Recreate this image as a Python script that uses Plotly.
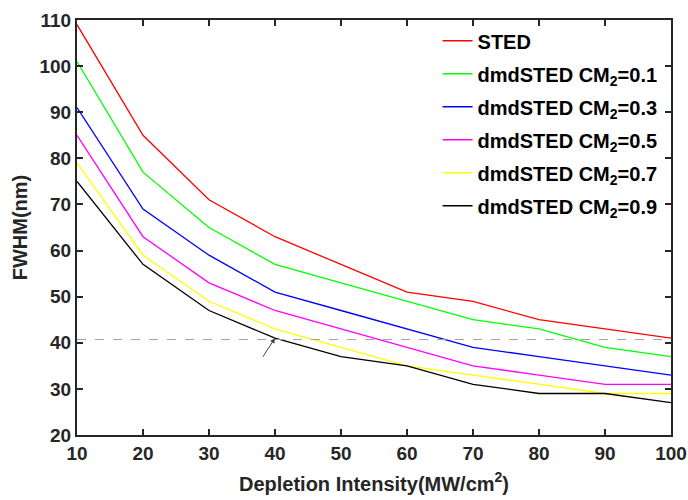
import plotly.graph_objects as go

intensity = [10, 20, 30, 40, 50, 60, 70, 80, 90, 100]
sted = [109, 85, 71, 63, 57, 51, 49, 45, 43, 41]
cm01 = [101, 77, 65, 57, 53, 49, 45, 43, 39, 37]
cm03 = [91, 69, 59, 51, 47, 43, 39, 37, 35, 33]
cm05 = [85, 63, 53, 47, 43, 39, 35, 33, 31, 31]
cm07 = [79, 59, 49, 43, 39, 35, 33, 31, 29, 29]
cm09 = [75, 57, 47, 41, 37, 35, 31, 29, 29, 27]
ref_level = 40.7
arrow_x, arrow_y = 40, 41

names = ["STED",
         "dmdSTED CM<sub>2</sub>=0.1",
         "dmdSTED CM<sub>2</sub>=0.3",
         "dmdSTED CM<sub>2</sub>=0.5",
         "dmdSTED CM<sub>2</sub>=0.7",
         "dmdSTED CM<sub>2</sub>=0.9"]
series = [sted, cm01, cm03, cm05, cm07, cm09]
colors = ["#FF0000", "#00FF00", "#0000FF", "#FF00FF", "#FFFF00", "#000000"]

FONT = "Liberation Sans, Arial, sans-serif"
AX = "#262626"

fig = go.Figure()
for i, (n, s, c) in enumerate(zip(names, series, colors)):
    fig.add_trace(go.Scatter(x=intensity, y=s, mode="lines", name=n,
                             legendgroup=f"g{i}",
                             line=dict(color=c, width=1.3)))

fig.add_shape(type="line", xref="x", yref="y", x0=intensity[0], x1=intensity[-1],
              y0=ref_level, y1=ref_level,
              line=dict(color="#A0A0A0", width=1, dash="dash"))

fig.add_annotation(x=arrow_x, y=arrow_y, xref="x", yref="y", text="",
                   showarrow=True, arrowhead=2, arrowsize=1, arrowwidth=1,
                   arrowcolor="#404040", ax=-13, ay=20)

fig.update_layout(
    width=688, height=500,
    margin=dict(l=77, r=17, t=20, b=65),
    paper_bgcolor="white", plot_bgcolor="white",
    font=dict(family=FONT, color=AX, size=16),
    showlegend=True,
    legend=dict(x=0.607, y=0.997, xanchor="left", yanchor="top",
                bgcolor="rgba(0,0,0,0)", borderwidth=0,
                font=dict(family=FONT, size=20, color="#000000", weight="bold"),
                itemwidth=30, tracegroupgap=4),
    xaxis=dict(range=[10, 100], tickvals=intensity, ticks="inside", ticklen=6,
               tickcolor=AX, tickwidth=1.5, showline=True, linecolor=AX, linewidth=2,
               mirror="ticks", showgrid=False, zeroline=False, automargin=False,
               tickfont=dict(family=FONT, size=19, color=AX, weight="bold"),
               title=dict(text="Depletion Intensity(MW/cm<sup>2</sup>)",
                          font=dict(family=FONT, size=20, color=AX, weight="bold"),
                          standoff=14)),
    yaxis=dict(range=[20, 110], tickvals=list(range(20, 111, 10)), ticks="inside", ticklen=6,
               tickcolor=AX, tickwidth=1.5, showline=True, linecolor=AX, linewidth=2,
               mirror="ticks", showgrid=False, zeroline=False, automargin=False,
               tickfont=dict(family=FONT, size=19, color=AX, weight="bold"),
               title=dict(text="FWHM(nm)",
                          font=dict(family=FONT, size=20, color=AX, weight="bold"),
                          standoff=6)),
)

fig.write_html("out.html")
